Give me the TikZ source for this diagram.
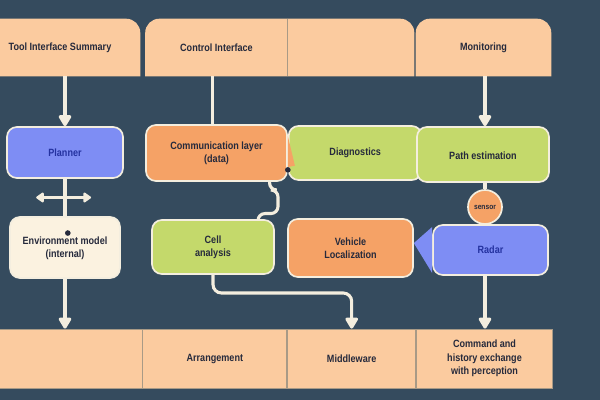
\documentclass[tikz,border=0pt]{standalone}
\usepackage{fontspec}
\setmainfont{Liberation Sans}[FakeStretch=0.86]
\usetikzlibrary{arrows.meta, calc, positioning}
\definecolor{slate}{HTML}{354B5E}
\definecolor{peach}{HTML}{FBCB9F}
\definecolor{seam}{HTML}{A89A86}
\definecolor{lilac}{HTML}{7E8DF4}
\definecolor{navy}{HTML}{2432A0}
\definecolor{apricot}{HTML}{F5A266}
\definecolor{lime}{HTML}{C4D96B}
\definecolor{cream}{HTML}{FBF2E0}
\definecolor{rim}{HTML}{F4EEDF}
\definecolor{ink}{HTML}{262A3C}
\newlength\pxl \setlength\pxl{0.025cm}
\pgfdeclarelayer{background}
\pgfsetlayers{background,main}
\tikzstyle{label}=[text=ink, font=\bfseries\fontsize{7.5}{9.5}\selectfont, align=center]
\tikzstyle{head}=[label, rectangle, minimum height=57*\pxl, inner sep=0pt]
\tikzstyle{foot}=[label, rectangle, fill=peach, draw=seam, line width=0.6pt, minimum height=59*\pxl, inner sep=0pt]
\tikzstyle{block}=[label, rectangle, rounded corners=7pt, draw=rim, line width=1.2pt]
\tikzstyle{wire}=[draw=rim, line width=2.2pt]
\tikzstyle{arr}=[wire, -{Triangle[round,width=10pt,length=9pt]}]
\tikzstyle{dbl}=[wire, {Triangle[round,width=8pt,length=6pt]}-{Triangle[round,width=8pt,length=6pt]}]

\begin{document}
\begin{tikzpicture}[x=0.025cm, y=-0.025cm]
  \useasboundingbox (0,0) rectangle (600,400);
  % header and footer rows
  \node[head, minimum width=160*\pxl] (t1) at (60,47.5) {Tool Interface Summary};
  \node[head, minimum width=142*\pxl] (t2) [right=3.5pt of t1] {Control Interface};
  \node[head, minimum width=126*\pxl] (t3) [right=0pt of t2] {};
  \node[head, minimum width=135*\pxl] (t4) [right=1pt of t3] {Monitoring};
  \node[foot, minimum width=152*\pxl] (b1) at (66,358.5) {};
  \node[foot, minimum width=144*\pxl] (b2) [right=0pt of b1] {Arrangement};
  \node[foot, minimum width=128*\pxl] (b3) [right=0pt of b2] {Middleware};
  \node[foot, minimum width=136*\pxl] (b4) [right=0pt of b3] {Command and\\history exchange\\with perception};
  % middle blocks
  \node[block, fill=lilac, text=navy, minimum width=116*\pxl, minimum height=51*\pxl] (planner) at (65,152.5) {Planner};
  \node[block, fill=apricot, minimum width=141*\pxl, minimum height=56*\pxl] (comm) at (216.5,153) {Communication layer\\(data)};
  \node[block, fill=lime, minimum width=133*\pxl, minimum height=54*\pxl] (diag) [right=0pt of comm] {Diagnostics};
  \node[block, fill=lime, minimum width=132*\pxl, minimum height=55*\pxl] (path) at (483,154.5) {\\[-3pt]Path estimation};
  \node[block, fill=cream, minimum width=110*\pxl, minimum height=61*\pxl] (env) at (65,247.5) {\\[-3pt]Environment model\\(internal)};
  \node[block, fill=lime, minimum width=122*\pxl, minimum height=54*\pxl] (cell) at (213,247) {Cell\\analysis};
  \node[block, fill=apricot, minimum width=125*\pxl, minimum height=58*\pxl] (vehicle) at (350.5,248) {Vehicle\\Localization};
  \node[block, circle, fill=apricot, minimum size=34*\pxl, inner sep=0pt, font=\bfseries\fontsize{5.5}{6}\selectfont] (sensor) at (485,207) {sensor};
  \node[block, fill=lilac, text=navy, minimum width=115*\pxl, minimum height=50*\pxl] (radar) at (490.5,250) {Radar};
  \fill[lilac] ([yshift=-2pt]radar.north west) -- ([yshift=3.5pt]vehicle.east) -- ([yshift=2pt]radar.south west) -- cycle;
  \fill[apricot] ([yshift=12pt]comm.east) -- ([xshift=5pt,yshift=-9pt]comm.east) -- ([yshift=-10pt]comm.east) -- cycle;
  \fill[ink] ([xshift=2pt,yshift=-12pt]env.north) circle (2pt);
  \fill[ink] ([yshift=-12pt]comm.east) circle (2pt);
  \begin{pgfonlayer}{background}
    \fill[slate] (-10,-10) rectangle (610,410);
    \fill[peach, rounded corners=10pt] (t1.south west) -- (t1.north west) -- (t1.north east) -- (t1.south east);
    \fill[peach, rounded corners=10pt] (t2.south west) -- (t2.north west) -- (t3.north east) -- (t3.south east);
    \fill[peach, rounded corners=10pt] (t4.south west) -- (t4.north west) -- (t4.north east) -- (t4.south east);
  \end{pgfonlayer}
  \draw[seam, line width=0.6pt] (t2.north east) -- (t2.south east);
  % connectors
  \coordinate (bend1) at (278,190);
  \coordinate (bend2) at (300,293);
  \coordinate (swap) at ($(planner.south)!0.5!(env.north)$);
  \draw[arr] (t1.south -| planner.north) -- (planner.north);
  \draw[wire] ([xshift=-3pt]t2.south -| comm.north) -- ([xshift=-3pt]comm.north);
  \draw[arr] (t4.south -| sensor) -- (path.north -| sensor);
  \draw[wire] (planner) -- (env);
  \draw[dbl] ([xshift=-20.5pt]swap) -- ([xshift=18.5pt]swap);
  \draw[arr] (env) -- (env.south |- b1.north);
  \draw[wire, rounded corners=5pt] ([xshift=-13pt]comm.south east) |- (bend1) |- ([xshift=-12pt,yshift=4pt]cell.north east) -- ([xshift=-12pt]cell.north east);
  \draw[arr, rounded corners=6pt] (cell) |- (bend2) -| (b3.north);
  \draw[wire] (path.south -| sensor) -- (sensor);
  \draw[wire] (sensor) -- (radar.north -| sensor);
  \draw[arr] (radar.south -| sensor) -- (b4.north -| sensor);
\end{tikzpicture}
\end{document}
